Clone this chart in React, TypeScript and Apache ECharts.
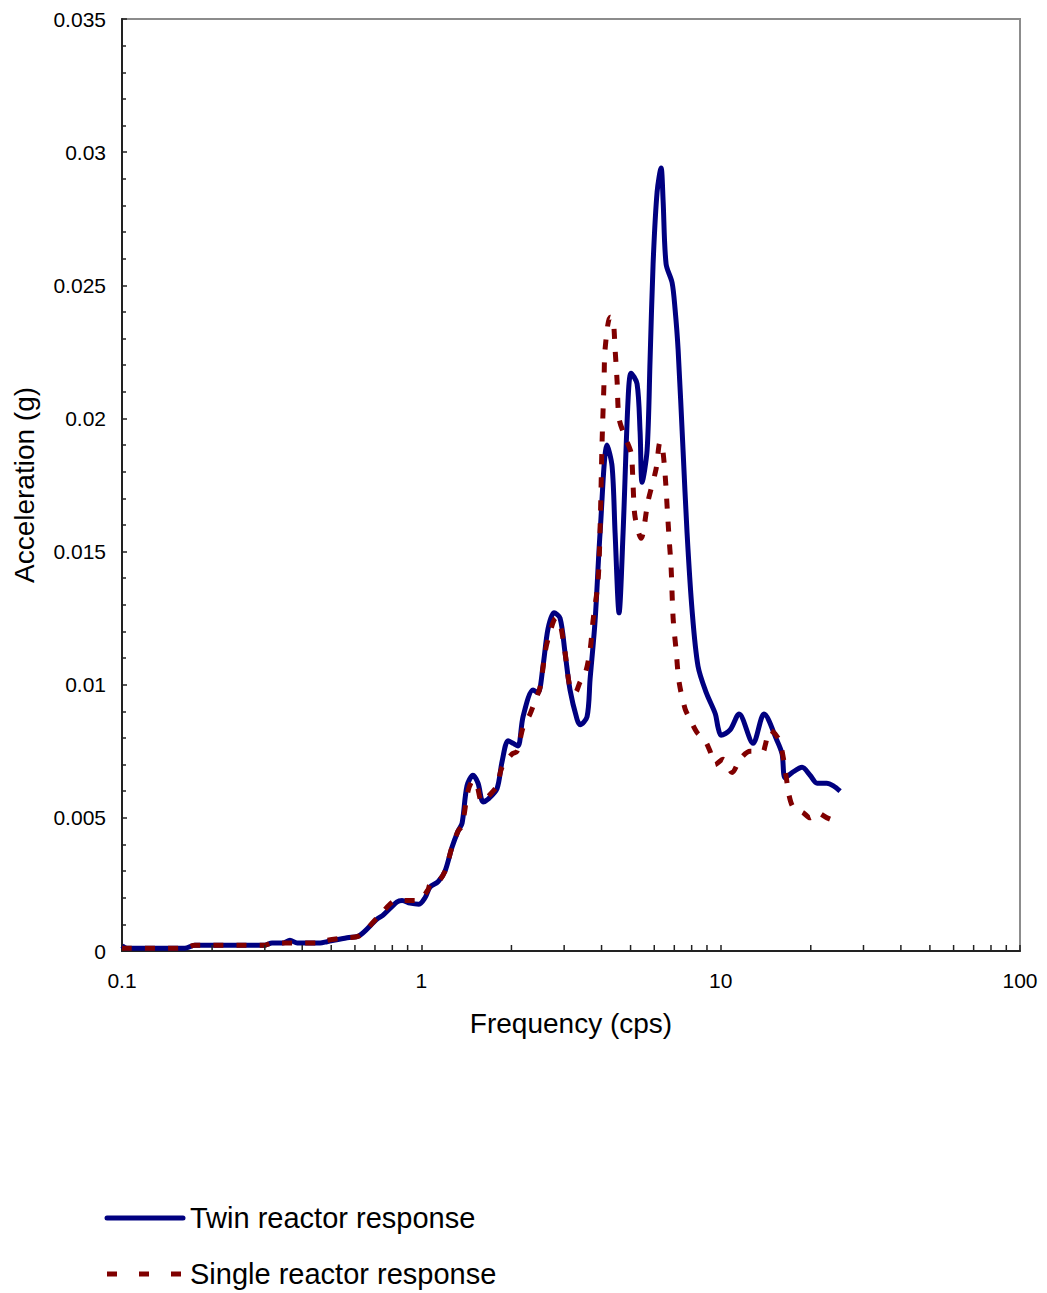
import React, { useEffect, useRef } from "react";
import * as echarts from "echarts";

const twinResponse: [number, number][] = [
  [0.1, 0.0002], [0.104, 0.0001], [0.162, 0.0001], [0.175, 0.00022], [0.3, 0.00022],
  [0.317, 0.0003], [0.345, 0.0003], [0.364, 0.0004], [0.385, 0.0003], [0.459, 0.0003],
  [0.484, 0.00035], [0.565, 0.0005], [0.615, 0.00055], [0.711, 0.0012], [0.745, 0.00135],
  [0.829, 0.00184], [0.862, 0.0019], [0.917, 0.0018], [0.982, 0.00176], [1.029, 0.002],
  [1.069, 0.0024], [1.137, 0.0026], [1.2, 0.003], [1.266, 0.0039], [1.326, 0.0045],
  [1.368, 0.0048], [1.421, 0.0062], [1.488, 0.0066], [1.547, 0.0063], [1.608, 0.0056],
  [1.67, 0.0057], [1.79, 0.0061], [1.86, 0.0071], [1.949, 0.0079], [2.025, 0.0078],
  [2.104, 0.0077], [2.187, 0.0088], [2.362, 0.0098], [2.454, 0.0097], [2.55, 0.0107],
  [2.65, 0.0121], [2.776, 0.0127], [2.907, 0.0125], [3.021, 0.0112], [3.139, 0.0098],
  [3.313, 0.0087], [3.391, 0.0085], [3.578, 0.0088], [3.662, 0.0102], [3.806, 0.0124],
  [3.955, 0.0157], [4.174, 0.019], [4.338, 0.0182], [4.439, 0.0157], [4.577, 0.0127],
  [4.72, 0.0157], [4.905, 0.0207], [5.02, 0.0217], [5.257, 0.0213], [5.38, 0.0195],
  [5.463, 0.0176], [5.678, 0.0188], [5.81, 0.0222], [5.946, 0.0258], [6.132, 0.0285],
  [6.324, 0.0294], [6.421, 0.0282], [6.572, 0.0258], [6.882, 0.0251], [7.042, 0.0241],
  [7.207, 0.0226], [7.488, 0.0188], [7.722, 0.0157], [8.025, 0.0128], [8.4, 0.0107],
  [8.95, 0.0097], [9.6, 0.0089], [9.8, 0.0084], [10.03, 0.0081], [10.75, 0.0083],
  [11.52, 0.0089], [12.83, 0.0078], [13.96, 0.0089], [15.43, 0.0079], [16.04, 0.0074],
  [16.41, 0.0065], [17.32, 0.0067], [18.71, 0.0069], [19.89, 0.0066], [21.0, 0.0063],
  [22.6, 0.0063], [23.8, 0.0062], [25.06, 0.006],
];

const singleResponse: [number, number][] = [
  [0.1, 0.0001], [0.162, 0.0001], [0.175, 0.00022], [0.3, 0.00022], [0.317, 0.0003],
  [0.459, 0.0003], [0.484, 0.0004], [0.565, 0.0005], [0.615, 0.00055], [0.72, 0.0013],
  [0.829, 0.0019], [0.862, 0.0019], [0.93, 0.0019], [0.98, 0.0019], [1.053, 0.0023],
  [1.069, 0.0025], [1.137, 0.0026], [1.2, 0.003], [1.266, 0.0039], [1.326, 0.0045],
  [1.368, 0.0047], [1.432, 0.006], [1.488, 0.0064], [1.535, 0.0062], [1.595, 0.0056],
  [1.736, 0.006], [1.79, 0.0062], [1.86, 0.0069], [2.009, 0.0074], [2.088, 0.0075],
  [2.187, 0.0084], [2.308, 0.0089], [2.399, 0.0094], [2.493, 0.0099], [2.59, 0.0112],
  [2.65, 0.0117], [2.819, 0.0125], [2.907, 0.0123], [3.021, 0.0112], [3.139, 0.0099],
  [3.263, 0.0097], [3.391, 0.0101], [3.524, 0.0104], [3.662, 0.0113], [3.746, 0.0124],
  [3.894, 0.0139], [3.96, 0.0161], [4.016, 0.0191], [4.078, 0.0214], [4.11, 0.0226],
  [4.271, 0.0238], [4.371, 0.0237], [4.439, 0.0226], [4.508, 0.0214], [4.577, 0.02],
  [4.794, 0.0193], [5.02, 0.0187], [5.097, 0.0175], [5.176, 0.0163], [5.421, 0.0155],
  [5.722, 0.0169], [6.084, 0.0181], [6.274, 0.0191], [6.373, 0.019], [6.521, 0.0179],
  [6.623, 0.0167], [6.725, 0.0155], [6.83, 0.0144], [6.937, 0.0125], [7.097, 0.0113],
  [7.263, 0.0101], [7.604, 0.0091], [7.904, 0.0087], [8.341, 0.0082], [8.869, 0.0079],
  [9.218, 0.0075], [9.579, 0.007], [10.19, 0.0072], [10.92, 0.0067], [11.61, 0.0072],
  [12.54, 0.0075], [13.33, 0.0075], [13.86, 0.0075], [14.07, 0.0077], [14.62, 0.0083],
  [15.55, 0.008], [16.04, 0.0075], [16.67, 0.0063], [16.8, 0.006], [17.46, 0.0054],
  [18.85, 0.0052], [19.89, 0.005], [21.0, 0.0052], [22.67, 0.005], [25.06, 0.0048],
];

const minorTickFreqs: number[] = [
  0.2, 0.3, 0.4, 0.5, 0.6, 0.7, 0.8, 0.9,
  2, 3, 4, 5, 6, 7, 8, 9,
  20, 30, 40, 50, 60, 70, 80, 90,
];

const seriesNames = ["Twin reactor response", "Single reactor response"];

const FONT = "'Liberation Sans', Arial, sans-serif";
const BLUE = "#000080";
const RED = "#800000";

export default function App() {
  const ref = useRef<HTMLDivElement>(null);
  useEffect(() => {
    if (!ref.current) return;
    const chart = echarts.init(ref.current, undefined, { renderer: "svg" });
    const legendRows = [
      { y: 1218, color: BLUE, dash: null as null | number[] },
      { y: 1274, color: RED, dash: [10, 22] },
    ];
    chart.setOption({
      animation: false,
      backgroundColor: "#ffffff",
      grid: {
        left: 122,
        right: 27,
        top: 19,
        bottom: 342,
        show: true,
        borderColor: "#8c8c8c",
        borderWidth: 2,
      },
      graphic: legendRows.flatMap((row, i) => [
        {
          type: "line",
          shape: { x1: 107, y1: row.y, x2: 183, y2: row.y },
          style: {
            stroke: row.color,
            lineWidth: 5,
            lineDash: row.dash || undefined,
            lineCap: row.dash ? "butt" : "round",
          },
        },
        {
          type: "text",
          x: 190,
          y: row.y,
          style: {
            text: seriesNames[i],
            fontFamily: FONT,
            fontSize: 29,
            fill: "#000",
            verticalAlign: "middle",
            align: "left",
          },
        },
      ]),
      xAxis: {
        type: "log",
        logBase: 10,
        min: 0.1,
        max: 100,
        name: "Frequency (cps)",
        nameLocation: "middle",
        nameGap: 58,
        nameTextStyle: { fontFamily: FONT, fontSize: 28, color: "#000" },
        axisLine: { show: true, lineStyle: { color: "#222", width: 2 } },
        axisTick: { show: true, inside: true, length: 6, lineStyle: { color: "#222", width: 1.5 } },
        axisLabel: { fontFamily: FONT, fontSize: 21, color: "#000", margin: 19 },
        splitLine: { show: false },
      },
      yAxis: {
        type: "value",
        min: 0,
        max: 0.035,
        interval: 0.005,
        name: "Acceleration (g)",
        nameLocation: "middle",
        nameGap: 84,
        nameTextStyle: { fontFamily: FONT, fontSize: 28, color: "#000" },
        axisLine: { show: true, lineStyle: { color: "#222", width: 2 } },
        axisTick: { show: true, inside: true, length: 5, lineStyle: { color: "#222", width: 1.5 } },
        minorTick: { show: true, splitNumber: 5, length: 4, lineStyle: { color: "#222", width: 1.5 } },
        axisLabel: {
          fontFamily: FONT,
          fontSize: 21,
          color: "#000",
          margin: 16,
          formatter: (v: number) => String(+v.toFixed(3)),
        },
        splitLine: { show: false },
      },
      series: [
        {
          name: seriesNames[0],
          type: "line",
          data: twinResponse,
          symbol: "none",
          smooth: 0.3,
          z: 3,
          lineStyle: { color: BLUE, width: 5 },
          itemStyle: { color: BLUE },
        },
        {
          name: seriesNames[1],
          type: "line",
          data: singleResponse,
          symbol: "none",
          smooth: 0.3,
          z: 4,
          lineStyle: { color: RED, width: 5, type: [10, 13] },
          itemStyle: { color: RED },
        },
        {
          name: "minorTicks",
          type: "custom",
          silent: true,
          z: 10,
          data: minorTickFreqs.map((f) => [f, 0]),
          renderItem: (params: any, api: any) => {
            const p = api.coord([api.value(0), 0]);
            return {
              type: "line",
              shape: { x1: p[0], y1: p[1], x2: p[0], y2: p[1] - 6 },
              style: { stroke: "#222", lineWidth: 1.5 },
            };
          },
        },
      ],
    });
    return () => chart.dispose();
  }, []);
  return (
    <div
      ref={ref}
      style={{ position: "fixed", left: 0, top: 0, width: 1047, height: 1293, background: "#fff" }}
    />
  );
}
